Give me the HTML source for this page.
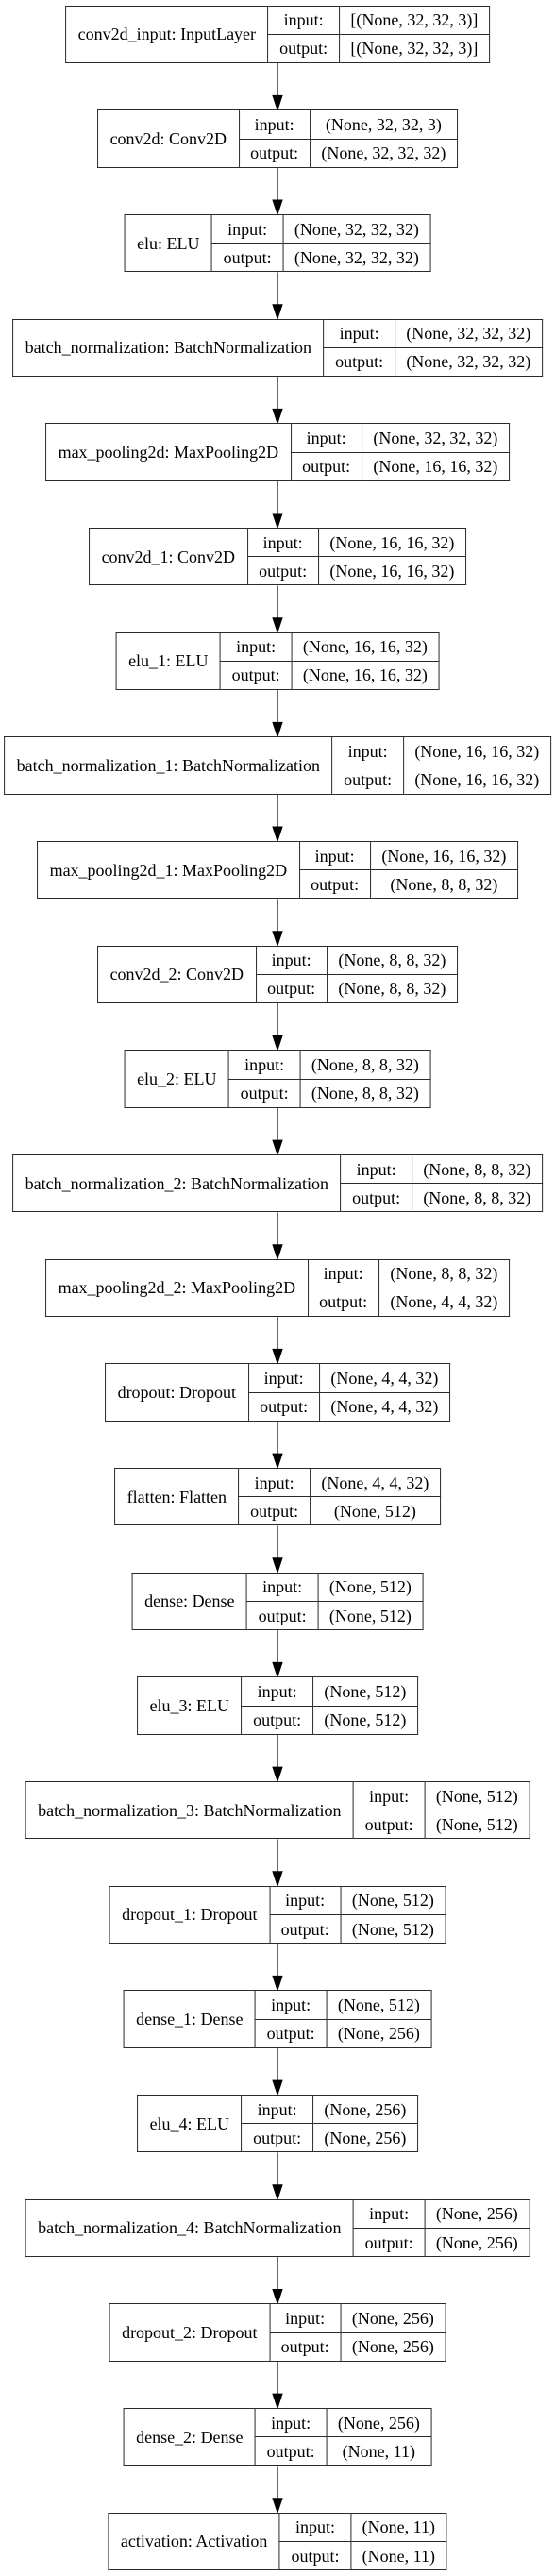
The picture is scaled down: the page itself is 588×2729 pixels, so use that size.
<!DOCTYPE html>
<html><head><meta charset="utf-8"><style>
html,body{margin:0;padding:0;background:#fff;}
body{width:588px;height:2729px;position:relative;overflow:hidden;font-family:"Liberation Serif",serif;font-size:18px;color:#000;}
.n{position:absolute;left:294px;transform:translateX(-50%);}
table{border-collapse:collapse;height:61.3px;background:#fff;}
td{border:1.4px solid #2a2a2a;padding:0 11.6px;white-space:nowrap;text-align:center;line-height:18px;height:28px;}
td.l{padding:0 12.5px;}
svg{position:absolute;left:0;top:0;}
</style></head><body>
<svg width="588" height="2729" id="s"></svg>
<div id="c"></div>
<script>
var d=[
["conv2d_input: InputLayer","[(None, 32, 32, 3)]","[(None, 32, 32, 3)]"],
["conv2d: Conv2D","(None, 32, 32, 3)","(None, 32, 32, 32)"],
["elu: ELU","(None, 32, 32, 32)","(None, 32, 32, 32)"],
["batch_normalization: BatchNormalization","(None, 32, 32, 32)","(None, 32, 32, 32)"],
["max_pooling2d: MaxPooling2D","(None, 32, 32, 32)","(None, 16, 16, 32)"],
["conv2d_1: Conv2D","(None, 16, 16, 32)","(None, 16, 16, 32)"],
["elu_1: ELU","(None, 16, 16, 32)","(None, 16, 16, 32)"],
["batch_normalization_1: BatchNormalization","(None, 16, 16, 32)","(None, 16, 16, 32)"],
["max_pooling2d_1: MaxPooling2D","(None, 16, 16, 32)","(None, 8, 8, 32)"],
["conv2d_2: Conv2D","(None, 8, 8, 32)","(None, 8, 8, 32)"],
["elu_2: ELU","(None, 8, 8, 32)","(None, 8, 8, 32)"],
["batch_normalization_2: BatchNormalization","(None, 8, 8, 32)","(None, 8, 8, 32)"],
["max_pooling2d_2: MaxPooling2D","(None, 8, 8, 32)","(None, 4, 4, 32)"],
["dropout: Dropout","(None, 4, 4, 32)","(None, 4, 4, 32)"],
["flatten: Flatten","(None, 4, 4, 32)","(None, 512)"],
["dense: Dense","(None, 512)","(None, 512)"],
["elu_3: ELU","(None, 512)","(None, 512)"],
["batch_normalization_3: BatchNormalization","(None, 512)","(None, 512)"],
["dropout_1: Dropout","(None, 512)","(None, 512)"],
["dense_1: Dense","(None, 512)","(None, 256)"],
["elu_4: ELU","(None, 256)","(None, 256)"],
["batch_normalization_4: BatchNormalization","(None, 256)","(None, 256)"],
["dropout_2: Dropout","(None, 256)","(None, 256)"],
["dense_2: Dense","(None, 256)","(None, 11)"],
["activation: Activation","(None, 11)","(None, 11)"]];
var h="",g="",P=110.67,T0=5.7,H=61.3;
for(var i=0;i<d.length;i++){var t=T0+i*P;
h+='<div class="n" style="top:'+t.toFixed(1)+'px"><table><tr><td class="l" rowspan="2">'+d[i][0]+'</td><td>input:</td><td>'+d[i][1]+'</td></tr><tr><td>output:</td><td>'+d[i][2]+'</td></tr></table></div>';
if(i>0){var y1=T0+(i-1)*P+H,y2=t;
g+='<line x1="294" y1="'+y1+'" x2="294" y2="'+(y2-14)+'" stroke="#2a2a2a" stroke-width="1.4"/><polygon points="289,'+(y2-15)+' 299,'+(y2-15)+' 294,'+y2+'" fill="#000" stroke="#000" stroke-width="1"/>';}}
document.getElementById("c").innerHTML=h;
document.getElementById("s").innerHTML=g;
</script>
</body></html>
